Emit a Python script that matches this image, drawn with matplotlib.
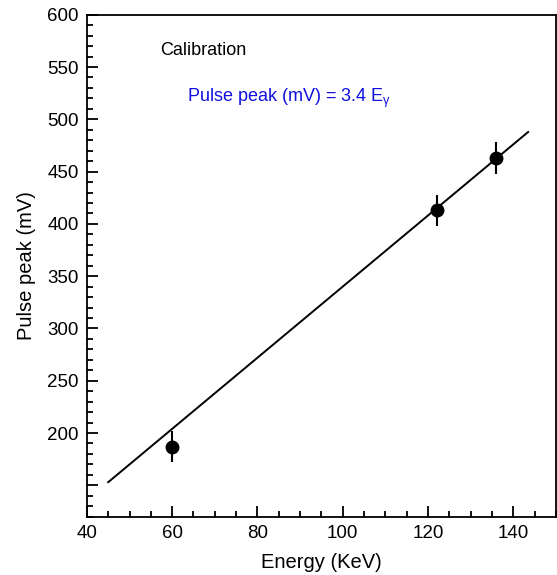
import numpy as np
import matplotlib.pyplot as plt
from matplotlib.ticker import MultipleLocator, FixedLocator

plt.rcParams['font.family'] = ['Liberation Sans', 'DejaVu Sans']

# measured peaks
energy = [60, 122, 136]
peak = [187, 413, 463]
peak_err = [15, 15, 15]

# calibration fit
slope = 3.4
fit_range = [45, 143.5]

fig = plt.figure(figsize=(5.57, 5.75), dpi=100)
ax = fig.add_axes([0.156, 0.1014, 0.842, 0.873])

fit_x = np.array(fit_range)
ax.plot(fit_x, slope * fit_x, color='black', lw=1.4)
ax.errorbar(energy, peak, yerr=peak_err, fmt='o', color='black',
            ms=9, elinewidth=1.5, capsize=0)

ax.set_xlim(40, 150)
ax.set_ylim(120, 600)
ax.xaxis.set_major_locator(MultipleLocator(20))
ax.xaxis.set_minor_locator(MultipleLocator(5))
ax.yaxis.set_major_locator(FixedLocator([150, 200, 250, 300, 350, 400, 450, 500, 550, 600]))
ax.yaxis.set_minor_locator(MultipleLocator(10))
ax.set_yticklabels(['', '200', '250', '300', '350', '400', '450', '500', '550', '600'])
ax.tick_params(which='both', direction='in', width=1.3, labelsize=13.5, pad=6)
ax.tick_params(which='major', length=8)
ax.tick_params(which='minor', length=4.5)
for s in ax.spines.values():
    s.set_linewidth(1.3)

ax.set_xlabel('Energy (KeV)', fontsize=14.5, labelpad=8)
ax.set_ylabel('Pulse peak (mV)', fontsize=14.5, labelpad=8)

ax.text(0.156, 0.928, 'Calibration', transform=ax.transAxes, fontsize=13,
        va='center')
ax.text(0.213, 0.834, r'Pulse peak (mV) = 3.4 E$_\mathregular{γ}$',
        transform=ax.transAxes, fontsize=13, color='#1010e0', va='center')

fig.savefig('out.png', dpi=100)
